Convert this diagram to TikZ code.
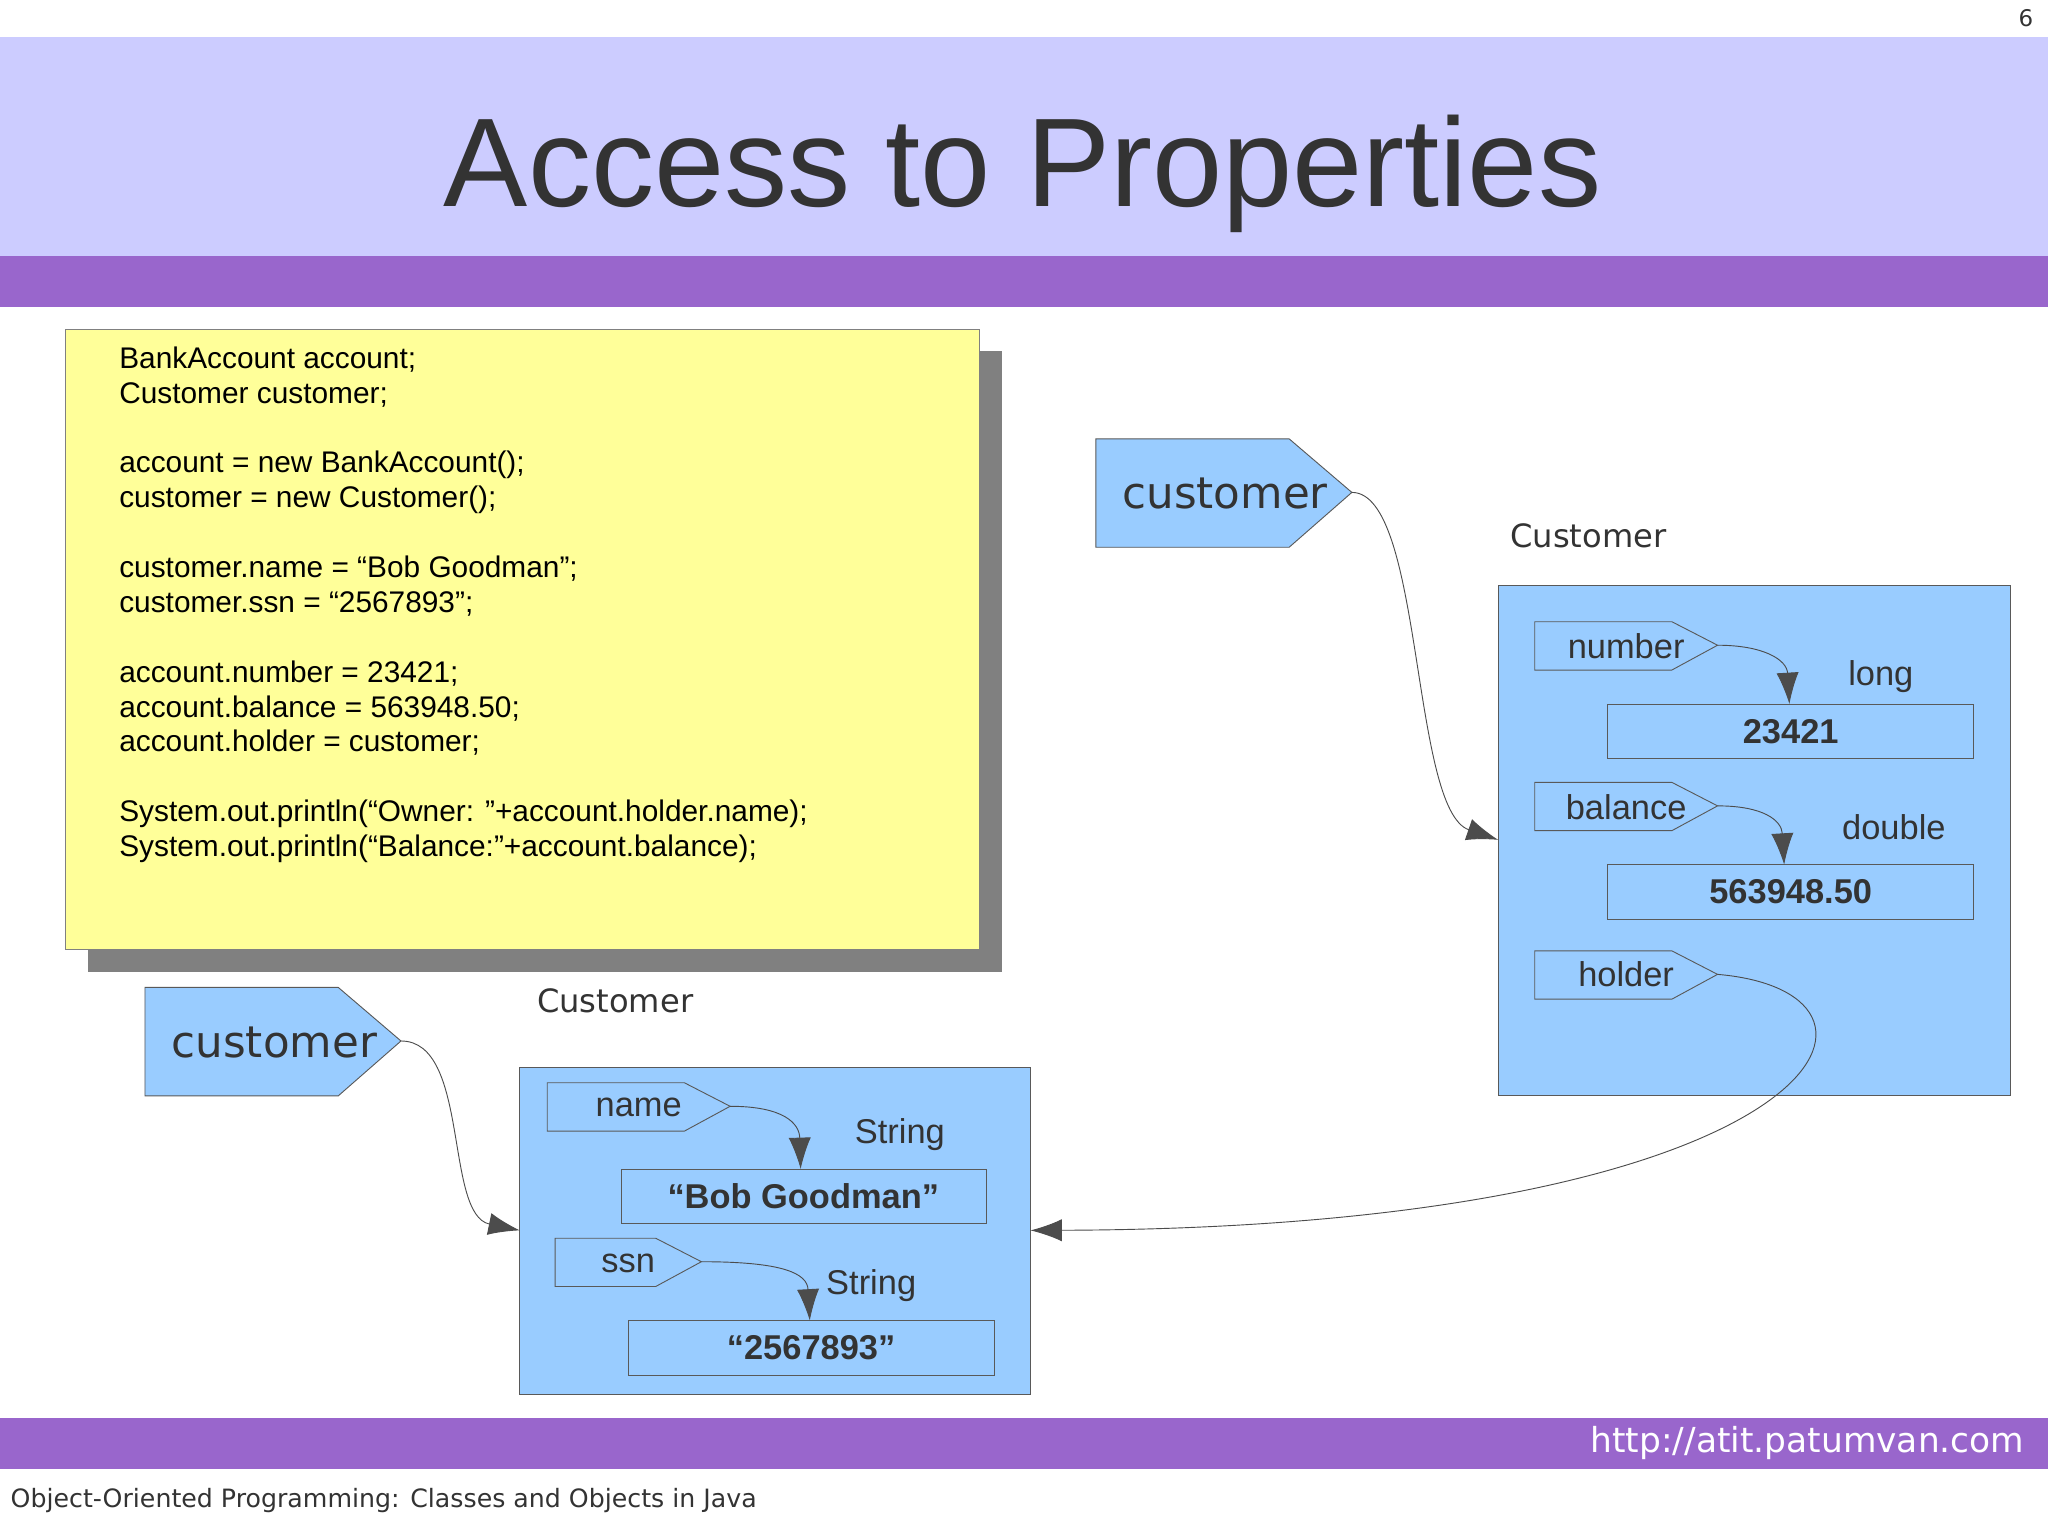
\documentclass[tikz,border=0pt]{standalone}
\usepackage{fontspec}
\setmainfont{Liberation Sans}
\newfontfamily\dejavu{DejaVu Sans}
\usetikzlibrary{arrows.meta}
\begin{document}
\begin{tikzpicture}[x=0.02cm,y=-0.02cm,
  band/.style={fill=bandpurple,draw=none},
  tag/.style={draw=gray!70!black,fill=objblue,line width=0.4pt},
  valbox/.style={draw=gray!70!black,fill=objblue,line width=0.4pt},
  tagtext/.style={font=\fontsize{15}{18}\selectfont,text=textgray},
  valtext/.style={font=\fontsize{15}{18}\selectfont\bfseries,text=textgray},
  typetext/.style={font=\fontsize{15}{18}\selectfont,text=textgray},
  ref/.style={-{Latex[length=0.48cm,width=0.34cm]},line width=0.4pt,draw=gray!60!black}]
\definecolor{toplav}{RGB}{204,204,255}
\definecolor{bandpurple}{RGB}{153,102,204}
\definecolor{objblue}{RGB}{153,204,255}
\definecolor{noteyellow}{RGB}{255,255,153}
\definecolor{textgray}{RGB}{51,51,51}
\useasboundingbox (0,0) rectangle (1568,1175);
\fill[white] (0,0) rectangle (1568,1175);

% header
\node[font=\dejavu\fontsize{10}{12}\selectfont,text=textgray] (pagenum) at (1551,14) {6};
\fill[toplav] (0,28) rectangle (1568,196);
\fill[bandpurple] (0,196) rectangle (1568,235);
\node[font=\fontsize{55}{60}\selectfont,text=textgray] (title) at (783,133) {Access to Properties};

% code note
\fill[gray!100!black,fill=gray] (67,269) rectangle (767,744);
\draw[fill=noteyellow,draw=gray] (50,252) rectangle (750,727);
\node[anchor=north west,align=left,font=\fontsize{13}{15.2}\selectfont,text=black,inner sep=0pt] (code) at (91,265) {%
BankAccount account;\\Customer customer;\\[15.2pt]
account = new BankAccount();\\customer = new Customer();\\[15.2pt]
customer.name = “Bob Goodman”;\\customer.ssn = “2567893”;\\[15.2pt]
account.number = 23421;\\account.balance = 563948.50;\\account.holder = customer;\\[15.2pt]
System.out.println(“Owner: ”+account.holder.name);\\System.out.println(“Balance:”+account.balance);};

% top customer reference
\draw[tag] (839,336) -- (987,336) -- (1035,377) -- (987,419) -- (839,419) -- cycle;
\coordinate (custtip) at (1035,377);
\node[font=\dejavu\fontsize{19}{22}\selectfont,text=textgray] (custA) at (938,378) {customer};

% right Customer object
\node[font=\dejavu\fontsize{14}{17}\selectfont,text=textgray] (labA) at (1216,410) {Customer};
\draw[valbox] (1147,448) rectangle (1539,839);
\coordinate (objA) at (1147,643);

\draw[tag] (1175,476) -- (1280,476) -- (1315,494) -- (1280,513) -- (1175,513) -- cycle;
\coordinate (numtip) at (1315,494);
\node[tagtext] (number) at (1245,495) {number};
\node[typetext] (long) at (1440,518) {long};
\draw[valbox] (1231,539) rectangle (1511,581);
\node[valtext] (numval) at (1371,560) {23421};

\draw[tag] (1175,599) -- (1280,599) -- (1315,617) -- (1280,636) -- (1175,636) -- cycle;
\coordinate (baltip) at (1315,617);
\node[tagtext] (balance) at (1245,618) {balance};
\node[typetext] (double) at (1450,633) {double};
\draw[valbox] (1231,662) rectangle (1511,704);
\node[valtext] (balval) at (1371,683) {563948.50};

\draw[tag] (1175,728) -- (1280,728) -- (1315,746) -- (1280,765) -- (1175,765) -- cycle;
\coordinate (holdtip) at (1315,746);
\node[tagtext] (holder) at (1245,746) {holder};

% lower customer reference
\draw[tag] (111,756) -- (259,756) -- (307,797) -- (259,839) -- (111,839) -- cycle;
\coordinate (custtipB) at (307,797);
\node[font=\dejavu\fontsize{19}{22}\selectfont,text=textgray] (custB) at (210,798) {customer};

% lower Customer object
\node[font=\dejavu\fontsize{14}{17}\selectfont,text=textgray] (labB) at (471,766) {Customer};
\draw[valbox] (398,817) rectangle (789,1068);
\coordinate (objBl) at (398,942);
\coordinate (objBr) at (789,942);

\draw[tag] (419,829) -- (524,829) -- (559,847) -- (524,866) -- (419,866) -- cycle;
\coordinate (nametip) at (559,847);
\node[tagtext] (name) at (489,848) {name};
\node[typetext] (strA) at (689,869) {String};
\draw[valbox] (476,895) rectangle (755,937);
\node[valtext] (nameval) at (615,916) {“Bob Goodman”};

\draw[tag] (425,948) -- (502,948) -- (537,966) -- (502,985) -- (425,985) -- cycle;
\coordinate (ssntip) at (537,966);
\node[tagtext] (ssn) at (481,967) {ssn};
\node[typetext] (strB) at (667,984) {String};
\draw[valbox] (481,1011) rectangle (761,1053);
\node[valtext] (ssnval) at (621,1032) {“2567893”};

% references
\draw[ref] (custtip) .. controls (1090,377) and (1080,620) .. (objA);
\draw[ref] (numtip) .. controls (1350,494) and (1368,505) .. (1370,539);
\draw[ref] (baltip) .. controls (1350,617) and (1364,628) .. (1366,662);
\draw[ref] (holdtip) .. controls (1480,760) and (1400,940) .. (objBr);
\draw[ref] (custtipB) .. controls (360,797) and (340,930) .. (objBl);
\draw[ref] (nametip) .. controls (600,847) and (612,860) .. (613,895);
\draw[ref] (ssntip) .. controls (600,966) and (618,975) .. (620,1011);

% footer
\fill[bandpurple] (0,1086) rectangle (1568,1125);
\node[anchor=east,font=\dejavu\fontsize{15}{18}\selectfont,text=white] (url) at (1556,1105) {http://atit.patumvan.com};
\node[anchor=west,font=\dejavu\fontsize{11}{13}\selectfont,text=textgray] (foot) at (2,1149) {Object-Oriented Programming: Classes and Objects in Java};
\end{tikzpicture}
\end{document}
